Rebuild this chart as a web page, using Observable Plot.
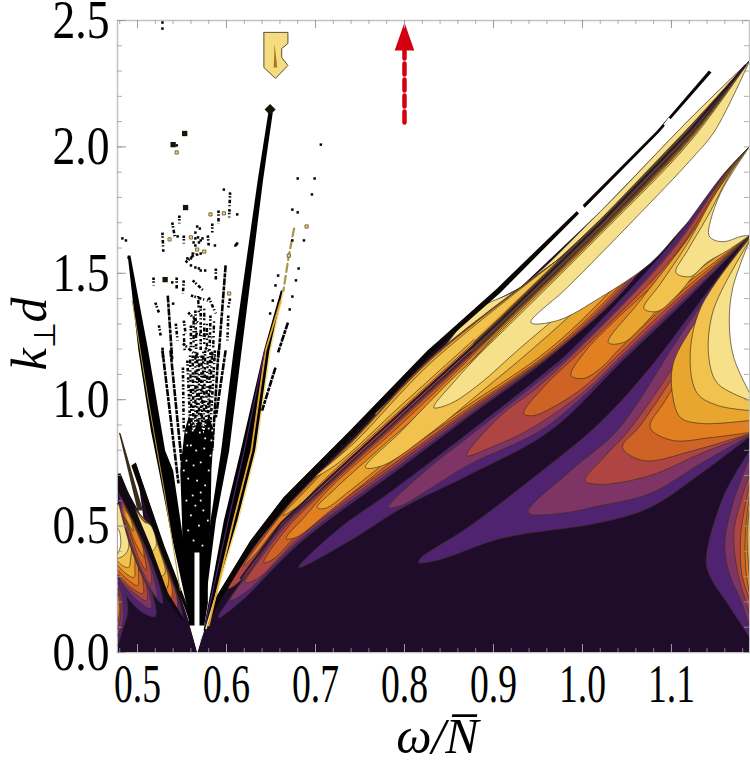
<!DOCTYPE html>
<html>
<head>
<meta charset="utf-8">
<script src="https://cdn.jsdelivr.net/npm/d3@7"></script>
<script src="https://cdn.jsdelivr.net/npm/@observablehq/plot@0.6"></script>
<style>
  html, body { margin: 0; background: #fff; }
  svg { display: block; }
</style>
</head>
<body>
<div id="chart"></div>
<script>
const xTicks = [0.5, 0.6, 0.7, 0.8, 0.9, 1.0, 1.1]
const yTicks = [0, 0.5, 1, 1.5, 2, 2.5]
const xMin = 0.4775, xMax = 1.1877

const dark = "#1f0c2b", purple = "#4f2370", plum = "#7e3566", rust = "#ae4543", deep = "#cf6326"
const orange = "#e27f20", amber = "#e9a62f", yellow = "#f2c24f", cream = "#f6e08a"

// contour bands as [omega, k] outlines
const baseRight = [[.567,0],[1.188,0],[1.188,2.342],[1.121,2.112],[1.020,1.744],[.930,1.444],[.880,1.353],[.826,1.195],[.739,.878],[.683,.680],[.664,.613],[.627,.443],[.588,.218],[.575,.087]]
const baseLeft = [[.478,0],[.567,0],[.560,.099],[.498,.752],[.507,.522],[.478,.708]]

const l1Purple = [[1.188,2.342],[1.121,2.049],[1.020,1.681],[.908,1.297],[.878,1.199],[.796,.934],[.709,.653],[.661,.494],[.616,.277],[.591,.138],[.616,.202],[.683,.435],[.796,.732],[.871,.930],[.972,1.195],[1.076,1.551],[1.155,1.887],[1.188,2.002]]
const l1Plum = [[1.188,2.342],[1.121,2.045],[1.020,1.677],[.908,1.294],[.878,1.195],[.796,.930],[.709,.649],[.661,.491],[.627,.324],[.604,.206],[.621,.237],[.683,.447],[.796,.744],[.871,.938],[.970,1.191],[1.040,1.408],[1.125,1.776],[1.188,2.002]]
const l1Rust = [[1.188,2.342],[1.121,2.041],[1.020,1.673],[.908,1.290],[.878,1.191],[.796,.926],[.709,.645],[.666,.498],[.640,.380],[.621,.277],[.635,.293],[.683,.459],[.796,.756],[.871,.949],[.969,1.191],[1.038,1.412],[1.122,1.772],[1.188,2.002]]
const l1Deep = [[1.188,2.342],[1.121,2.041],[1.020,1.673],[.908,1.290],[.878,1.187],[.796,.918],[.709,.637],[.666,.483],[.642,.356],[.652,.368],[.683,.475],[.796,.767],[.871,.957],[.967,1.191],[1.036,1.416],[1.120,1.768],[1.188,2.002]]
const l1Orange = [[1.188,2.342],[1.121,2.037],[1.020,1.669],[.908,1.286],[.879,1.183],[.796,.902],[.717,.653],[.689,.542],[.667,.451],[.678,.455],[.717,.562],[.796,.783],[.871,.965],[.964,1.191],[1.034,1.420],[1.118,1.760],[1.188,2.002]]
const l1Amber = [[1.188,2.342],[1.121,2.033],[1.020,1.665],[.908,1.278],[.881,1.175],[.833,.997],[.776,.819],[.720,.641],[.702,.574],[.711,.570],[.739,.641],[.796,.799],[.871,.977],[.961,1.195],[1.031,1.428],[1.116,1.760],[1.188,2.002]]
const l1Yellow = [[1.188,2.342],[1.121,2.029],[1.020,1.661],[.908,1.270],[.883,1.179],[.852,1.076],[.796,.874],[.756,.732],[.776,.740],[.833,.878],[.885,1.028],[.942,1.195],[1.020,1.444],[1.110,1.760],[1.188,2.002]]
const l1Cream = [[1.188,2.342],[1.121,2.021],[1.020,1.653],[.908,1.262],[.885,1.183],[.857,1.076],[.833,.969],[.852,.985],[.885,1.064],[.927,1.195],[.983,1.365],[1.057,1.618],[1.133,1.867],[1.188,2.002]]
const l1White = [[1.188,2.342],[1.149,2.065],[1.124,1.958],[1.057,1.709],[.983,1.444],[.942,1.305],[.972,1.313],[1.020,1.404],[1.076,1.539],[1.113,1.681],[1.152,1.828],[1.188,2.002]]

const l2Purple = [[1.188,2.002],[1.160,1.899],[1.096,1.602],[.987,1.195],[.961,1.116],[.871,.866],[.782,.629],[.728,.494],[.681,.336],[.739,.443],[.796,.570],[.871,.700],[.964,.878],[1.043,1.147],[1.096,1.325],[1.133,1.452],[1.188,1.650]]
const l2Plum = [[1.188,2.002],[1.161,1.899],[1.099,1.590],[.992,1.195],[.945,1.056],[.871,.850],[.824,.720],[.782,.574],[.796,.581],[.829,.649],[.871,.740],[.953,.878],[.998,1.005],[1.043,1.159],[1.096,1.337],[1.133,1.460],[1.188,1.650]]
const l2Rust = [[1.188,2.002],[1.162,1.899],[1.101,1.590],[.994,1.195],[.945,1.036],[.908,.937],[.870,.779],[.897,.811],[.938,.878],[.998,1.021],[1.043,1.171],[1.096,1.349],[1.133,1.472],[1.188,1.650]]
const l2Deep = [[1.188,2.002],[1.163,1.899],[1.106,1.582],[.999,1.195],[.958,1.056],[.934,.945],[.945,.937],[.964,.965],[.998,1.040],[1.043,1.187],[1.096,1.365],[1.133,1.479],[1.188,1.650]]
const l2Orange = [[1.188,2.002],[1.164,1.899],[1.110,1.570],[1.031,1.294],[1.004,1.195],[.987,1.096],[1.001,1.084],[1.020,1.123],[1.043,1.206],[1.096,1.381],[1.133,1.491],[1.188,1.650]]
const l2Amber = [[1.188,2.002],[1.165,1.899],[1.125,1.669],[1.065,1.392],[1.029,1.226],[1.046,1.226],[1.065,1.282],[1.096,1.400],[1.133,1.503],[1.188,1.650]]
const l2Yellow = [[1.188,2.002],[1.166,1.899],[1.147,1.800],[1.118,1.618],[1.088,1.460],[1.069,1.361],[1.084,1.349],[1.105,1.408],[1.133,1.519],[1.188,1.650]]
const l2Cream = [[1.188,2.002],[1.167,1.899],[1.140,1.721],[1.118,1.590],[1.105,1.503],[1.121,1.487],[1.140,1.543],[1.163,1.590],[1.188,1.650]]
const l2White = [[1.188,2.002],[1.170,1.907],[1.155,1.816],[1.144,1.709],[1.142,1.650],[1.149,1.630],[1.161,1.626],[1.178,1.646],[1.188,1.650]]

const l3Purple = [[1.188,1.650],[1.133,1.392],[1.076,1.127],[1.020,.910],[.945,.692],[.871,.494],[.818,.372],[.816,.356],[.840,.368],[.908,.451],[1.020,.514],[1.076,.574],[1.133,.708],[1.188,.854]]
const l3Plum = [[1.188,1.650],[1.110,1.254],[1.039,.878],[.987,.720],[.939,.554],[.975,.550],[1.020,.581],[1.076,.629],[1.133,.748],[1.188,.858]]
const l3Rust = [[1.188,1.650],[1.121,1.234],[1.052,.878],[1.026,.779],[1.003,.680],[1.020,.665],[1.076,.700],[1.133,.787],[1.188,.862]]
const l3Deep = [[1.188,1.650],[1.127,1.234],[1.065,.898],[1.045,.811],[1.069,.759],[1.125,.799],[1.188,.866]]
const l3Orange = [[1.188,1.650],[1.138,1.254],[1.093,.997],[1.076,.890],[1.101,.839],[1.144,.850],[1.188,.870]]
const l3Amber = [[1.188,1.646],[1.155,1.440],[1.121,1.274],[1.102,1.143],[1.101,1.025],[1.110,.930],[1.133,.906],[1.188,.918]]
const l3Yellow = [[1.188,1.638],[1.133,1.365],[1.121,1.167],[1.129,1.025],[1.152,.977],[1.188,.957]]
const l3Cream = [[1.188,1.630],[1.147,1.353],[1.142,1.167],[1.152,1.064],[1.188,.997]]
const l3White = [[1.188,1.630],[1.169,1.444],[1.165,1.301],[1.170,1.167],[1.188,1.025]]

const edgePurple = [[1.188,.799],[1.158,.613],[1.139,.364],[1.144,.297],[1.163,.194],[1.188,.059]]
const edgePlum = [[1.188,.771],[1.170,.601],[1.160,.431],[1.165,.313],[1.178,.206],[1.188,.099]]
const edgeRust = [[1.188,.708],[1.175,.562],[1.170,.471],[1.174,.324],[1.188,.154]]
const edgeDeep = [[1.188,.669],[1.178,.471],[1.179,.313],[1.188,.206]]
const edgeOrange = [[1.188,.629],[1.183,.471],[1.184,.313],[1.188,.233]]
const edgeAmber = [[1.188,.581],[1.185,.463],[1.188,.285]]

const l0Rust = [[.975,1.560],[.830,1.167],[.744,.850],[.688,.653],[.669,.581],[.630,.411],[.602,.253],[.616,.285],[.661,.498],[.709,.657],[.796,.937],[.878,1.203]]
const l0Orange = [[.975,1.560],[.830,1.163],[.744,.847],[.688,.649],[.669,.578],[.636,.427],[.619,.344],[.633,.392],[.661,.514],[.709,.672],[.796,.953],[.878,1.218]]
const l0Amber = [[.975,1.560],[.830,1.159],[.744,.843],[.689,.641],[.663,.542],[.683,.585],[.709,.680],[.796,.961],[.878,1.226]]
const l0Yellow = [[.975,1.560],[.830,1.147],[.744,.831],[.700,.696],[.722,.740],[.796,.977],[.878,1.238]]
const l0Cream = [[1.188,2.342],[1.121,2.112],[1.020,1.744],[.930,1.444],[.880,1.353],[.840,1.191],[.796,1.040],[.767,.941],[.796,.997],[.878,1.242],[.908,1.345],[1.020,1.713],[1.121,2.081],[1.188,2.342]]

const leftLowPurple = [[.478,.589],[.489,.455],[.507,.316],[.518,.214],[.520,.142],[.504,.162],[.489,.218],[.478,.289]]
const leftLowPlum = [[.478,.589],[.489,.483],[.506,.344],[.513,.245],[.515,.174],[.500,.206],[.478,.293]]
const leftLowRust = [[.478,.589],[.490,.502],[.503,.372],[.510,.265],[.510,.206],[.497,.233],[.478,.297]]
const leftLowDeep = [[.478,.589],[.490,.522],[.502,.384],[.506,.285],[.506,.233],[.493,.257],[.478,.309]]
const leftLowOrange = [[.478,.589],[.490,.530],[.500,.403],[.501,.316],[.500,.265],[.490,.285],[.478,.324]]
const leftLowAmber = [[.478,.589],[.489,.530],[.497,.423],[.497,.344],[.496,.297],[.487,.312],[.478,.344]]
const leftLowYellow = [[.478,.589],[.487,.542],[.493,.443],[.492,.364],[.490,.336],[.483,.344],[.478,.360]]
const leftLowCream = [[.478,.589],[.484,.542],[.490,.463],[.489,.403],[.483,.380],[.478,.372]]
const leftLowWhite = [[.478,.490],[.480,.475],[.481,.423],[.478,.392]]

const leftMidPurple = [[.479,.633],[.490,.554],[.511,.400],[.526,.245],[.528,.194],[.512,.257],[.492,.419],[.480,.574]]
const leftMidPlum = [[.482,.613],[.492,.538],[.511,.384],[.519,.285],[.522,.222],[.510,.277],[.493,.419],[.482,.562]]
const leftMidRust = [[.483,.601],[.494,.522],[.509,.396],[.515,.324],[.515,.269],[.505,.324],[.494,.419],[.483,.546]]
const leftMidDeep = [[.484,.589],[.496,.510],[.507,.392],[.510,.324],[.502,.368],[.496,.427],[.485,.538]]
const leftMidOrange = [[.485,.578],[.497,.494],[.506,.415],[.507,.380],[.499,.423],[.487,.530]]
const leftMidAmber = [[.487,.562],[.493,.522],[.495,.479],[.488,.522]]

const leftTopPurple = [[.494,.574],[.515,.498],[.531,.356],[.548,.190],[.551,.131],[.535,.233],[.513,.407]]
const leftTopRust = [[.496,.566],[.515,.491],[.528,.376],[.544,.222],[.544,.166],[.530,.253],[.512,.411]]
const leftTopOrange = [[.496,.570],[.513,.502],[.526,.392],[.539,.253],[.537,.206],[.526,.285],[.509,.443],[.498,.542]]
const leftTopAmber = [[.496,.574],[.507,.518],[.513,.510],[.525,.403],[.535,.285],[.531,.245],[.520,.336],[.506,.475]]
const leftTopYellow = [[.497,.570],[.507,.518],[.513,.510],[.524,.411],[.531,.316],[.526,.301],[.515,.392],[.504,.483]]
const leftTopCream = [[.499,.562],[.507,.518],[.515,.502],[.521,.423],[.515,.400],[.507,.471]]

const leftEdgePurple = [[.478,.028],[.483,.087],[.489,.158],[.487,.225],[.481,.285],[.478,.304]]
const leftEdgePlum = [[.478,.067],[.484,.134],[.483,.214],[.479,.265],[.478,.277]]
const leftEdgeRust = [[.478,.095],[.481,.146],[.481,.206],[.478,.253]]
const leftEdgeOrange = [[.478,.127],[.480,.166],[.479,.214],[.478,.233]]

// black strips, the bright sliver inside each of them and the fan around the apex
const strip0 = [[.479,.870],[.481,.866],[.506,.562],[.500,.562]]
const strip1 = [[.478,.708],[.481,.708],[.492,.613],[.499,.554],[.515,.419],[.534,.237],[.552,.134],[.550,.127],[.531,.222],[.511,.407],[.490,.562],[.478,.641]]
const strip2 = [[.493,.740],[.498,.752],[.530,.423],[.556,.186],[.563,.107],[.560,.107],[.552,.186],[.524,.423]]
const fanLeft = [[.489,1.570],[.501,1.195],[.515,.878],[.524,.720],[.537,.483],[.554,.206],[.563,.087],[.566,.127],[.557,.194],[.551,.455],[.540,.720],[.531,.799],[.512,1.195],[.492,1.570]]
const fanCentre = [[.548,.720],[.553,.878],[.558,.938],[.563,.870],[.569,.926],[.574,.866],[.580,.934],[.586,.878],[.583,.720],[.582,.522],[.579,.324],[.579,.194],[.575,.107],[.567,.047],[.558,.107],[.556,.194],[.551,.324],[.550,.522]]
const fanRight = [[.647,2.136],[.635,1.867],[.608,1.195],[.594,.799],[.582,.522],[.570,.047],[.571,.047],[.588,.522],[.603,.799],[.617,1.195],[.641,1.867],[.652,2.136]]
const fanOuter = [[.661,1.432],[.642,1.195],[.616,.799],[.597,.522],[.574,.087],[.576,.087],[.613,.522],[.633,.799],[.649,1.195],[.664,1.432]]
const outerGold = [[.661,1.392],[.644,1.195],[.628,.799],[.608,.522],[.580,.107]]
const outerPurple = [[.643,1.195],[.620,.799],[.602,.522],[.576,.107]]
const outerCream = [[.664,1.432],[.649,1.195],[.633,.799],[.613,.522],[.577,.095]]
const outerDashes = [[.676,1.677],[.670,1.570],[.664,1.432]]
const leftSliver = [[.494,1.392],[.512,1.000],[.530,.640],[.548,.245]]

const ridge = [[.575,.079],[.588,.218],[.627,.443],[.664,.613],[.683,.680],[.739,.878],[.826,1.195],[.904,1.440],[.992,1.741],[1.084,2.065],[1.142,2.302],[1.145,2.294],[1.086,2.057],[.994,1.729],[.908,1.424],[.829,1.179],[.743,.862],[.688,.661],[.669,.589],[.630,.419],[.591,.194]]
const ridgeGapLow = [[.991,1.756],[.998,1.780],[1.004,1.752],[.998,1.729]]
const ridgeGapHigh = [[1.091,2.089],[1.097,2.116],[1.102,2.100],[1.096,2.073]]
const stripeBrown = [[.874,1.187],[.878,1.230],[.908,1.329],[1.020,1.713],[1.121,2.085],[1.188,2.342],[1.121,2.049],[1.020,1.677],[.908,1.297],[.878,1.195]]
const stripeCore = [[.616,.293],[.661,.510],[.709,.669],[.796,.949],[.878,1.214],[.908,1.313],[1.020,1.697],[1.121,2.065],[1.183,2.322]]

const topShape = [[.642,2.453],[.669,2.453],[.669,2.409],[.662,2.389],[.662,2.354],[.669,2.322],[.655,2.271],[.642,2.314],[.642,2.453]]
const topNeedle = [[.654,2.409],[.657,2.314],[.653,2.314]]

// dotted runs of the noisy region: omega1, k1, omega2, k2
const noisyRuns = [
  [.528,1.661,.529,1.582],[.539,1.701,.542,1.642],[.547,1.729,.547,1.697],[.552,1.650,.552,1.618],
  [.579,1.650,.580,1.610],[.584,1.697,.584,1.661],[.591,1.748,.591,1.697],[.604,1.820,.603,1.721],[.554,1.543,.565,1.578],
  [.588,1.519,.588,1.472],[.518,1.483,.518,1.452],[.544,1.483,.544,1.440],[.552,1.472,.551,1.420],
  [.562,1.472,.574,1.432],[.560,1.412,.579,1.392],[.580,1.404,.588,1.341],[.520,1.384,.524,1.345],[.524,1.294,.526,1.254],
  [.557,1.345,.569,1.301],[.604,1.400,.602,1.365],[.602,1.333,.601,1.234],[.528,1.206,.529,1.155],[.543,1.301,.545,1.234],
  [.552,1.313,.554,1.262],[.565,1.262,.584,1.246],[.551,1.222,.569,1.167],[.576,1.206,.588,1.167],[.551,1.127,.552,.866],
  [.556,1.155,.560,.839],[.562,1.175,.563,.839],[.567,1.187,.567,.839],[.572,1.175,.571,.839],[.576,1.195,.574,.839],
  [.582,1.187,.578,.839],[.587,1.195,.581,.839],[.565,1.353,.566,1.195],[.571,1.372,.571,1.195],[.582,1.333,.581,1.195],[.560,1.294,.560,1.195]
]
const denseRuns = [[.559,1.175,.561,.860],[.565,1.190,.565,.850],[.569,1.160,.569,.850],[.574,1.190,.572,.850],[.579,1.170,.576,.850],[.584,1.190,.579,.850],[.563,1.330,.563,1.200],[.575,1.360,.575,1.220],[.586,1.310,.585,1.200],[.568,1.410,.569,1.340],[.578,1.300,.578,1.210],[.552,1.260,.553,1.190]]
const solidRuns = [[.534,1.412,.539,1.155],[.599,1.531,.591,1.167],[.528,1.195,.546,.669],[.537,1.195,.552,.669],[.591,1.195,.584,.799],[.599,1.195,.588,.930],[.669,1.305,.658,1.187],[.655,1.127,.640,.957]]

const blackDots = [[.528,2.492],[.528,2.468],[.544,2.006],[.706,2.009],[.680,1.875],[.699,1.875],[.696,1.812],[.674,1.752],[.680,1.741],[.687,1.630],[.674,1.630],[.487,1.630],[.490,1.562],[.483,1.638],[.597,1.831],[.612,1.733],[.611,1.614],[.540,1.380],[.681,1.519],[.678,1.472],[.674,1.408],[.671,1.357],[.658,1.491],[.655,1.452],[.652,1.392],[.649,1.341],
  [.545,1.646],[.567,1.685],[.570,1.677],[.565,1.661],[.568,1.642],[.565,1.638],[.571,1.630],[.563,1.622],[.569,1.622],[.573,1.638],[.565,1.610],[.587,1.610],[.610,1.610],[.612,1.618],[.560,1.531],[.565,1.523],[.569,1.519],[.571,1.511],[.576,1.511],[.539,1.464],[.560,1.559],[.562,1.578],[.567,1.574],[.571,1.578],[.556,1.559]]
const bigBlobs = [[.553,2.053],[.540,2.009],[.554,1.760],[.531,1.475]]
const paleDots = [[.544,1.978],[.582,1.733],[.597,1.737],[.690,1.685],[.670,1.570],[.575,1.586],[.603,1.420],[.536,1.634],[.560,1.642],[.567,1.594]]
const speckles = [[.560,.819],[.566,.799],[.575,.807],[.555,.759],[.563,.740],[.571,.752],[.580,.720],[.557,.688],[.567,.680],[.576,.661],[.562,.621],[.571,.633],[.555,.601],[.582,.779],[.552,.720],[.565,.581],[.574,.562],[.560,.542],[.569,.502],[.579,.522],[.557,.483],[.563,.443],[.573,.423],[.571,.601],[.556,.819],[.583,.839],[.576,.847],[.562,.878],[.570,.870],[.555,.870],[.580,.886],[.565,.910],[.574,.898],[.558,.902],[.584,.878]]

const whiteArrow = [[.5640,.396],[.5696,.396],[.5696,.107],[.5752,.107],[.5674,0],[.5585,.107],[.5640,.107]]
const redHead = [[.8,2.492],[.811,2.381],[.789,2.381]]
const redShaft = [[.8,2.097],[.8,2.39]]

const serif = "Liberation Serif"
const contour = "#3d3020"

const band = (pts, fill) => Plot.line(pts, {x: d => d[0], y: d => d[1], fill, stroke: contour, strokeWidth: 0.9, strokeOpacity: 0.75, curve: "catmull-rom", clip: true})
const solid = (pts, fill) => Plot.line(pts, {x: d => d[0], y: d => d[1], fill, stroke: "none", curve: "linear", clip: true})
const trace = (pts, stroke, strokeWidth) => Plot.line(pts, {x: d => d[0], y: d => d[1], stroke, strokeWidth, curve: "linear", clip: true})

const xMinor = d3.range(0.48, 1.19, 0.02)
const yMinor = d3.range(0, 2.51, 0.1)
const xTickLen = d => xMin + d * (xMax - xMin) / 632
const yTickLen = d => d * 2.5 / 632
const tickColor = "#9a9a9a"

const chart = Plot.plot({
  width: 750,
  height: 764,
  marginLeft: 117,
  marginRight: 1,
  marginTop: 20,
  marginBottom: 112,
  style: {background: "#fff", overflow: "visible"},
  x: {domain: [xMin, xMax]},
  y: {domain: [0, 2.5]},
  marks: [
    Plot.frame({stroke: "#c4c4c4", strokeWidth: 1.5}),
    Plot.axisX(xTicks, {anchor: "bottom", tickSize: 0, tickPadding: 11, tickFormat: d => d.toFixed(1), fontFamily: serif, fontSize: 54, fill: "#000", label: null}),
    Plot.axisY(yTicks, {anchor: "left", tickSize: 0, tickPadding: 8, tickFormat: d => d.toFixed(1), fontFamily: serif, fontSize: 54, fill: "#000", label: null}),

    solid(baseRight, dark),
    solid(baseLeft, dark),

    band(l1Purple, purple), band(l1Plum, plum), band(l1Rust, rust), band(l1Deep, deep), band(l1Orange, orange),
    band(l1Amber, amber), band(l1Yellow, yellow), band(l1Cream, cream), band(l1White, "#fff"),

    band(l2Purple, purple), band(l2Plum, plum), band(l2Rust, rust), band(l2Deep, deep), band(l2Orange, orange),
    band(l2Amber, amber), band(l2Yellow, yellow), band(l2Cream, cream), band(l2White, "#fff"),

    band(l3Purple, purple), band(l3Plum, plum), band(l3Rust, rust), band(l3Deep, deep), band(l3Orange, orange),
    band(l3Amber, amber), band(l3Yellow, yellow), band(l3Cream, cream), band(l3White, "#fff"),

    band(edgePurple, purple), band(edgePlum, plum), band(edgeRust, rust), band(edgeDeep, deep), band(edgeOrange, orange), band(edgeAmber, amber),

    band(l0Cream, cream), band(l0Rust, rust), band(l0Orange, orange), band(l0Amber, amber), band(l0Yellow, yellow),
    solid(stripeBrown, "#5b4523"),
    trace(stripeCore, "#2b1433", 2),
    solid(ridge, "#0a0604"),
    solid(ridgeGapLow, "#fff"),
    solid(ridgeGapHigh, "#fff"),

    band(leftLowPurple, purple), band(leftLowPlum, plum), band(leftLowRust, rust), band(leftLowDeep, deep),
    band(leftLowOrange, orange), band(leftLowAmber, amber), band(leftLowYellow, yellow), band(leftLowCream, cream), band(leftLowWhite, "#fff"),
    band(leftMidPurple, purple), band(leftMidPlum, plum), band(leftMidRust, rust), band(leftMidDeep, deep), band(leftMidOrange, orange), band(leftMidAmber, amber),
    band(leftTopPurple, purple), band(leftTopRust, rust), band(leftTopOrange, orange), band(leftTopAmber, amber),
    band(leftTopYellow, yellow), band(leftTopCream, cream),
    band(leftEdgePurple, purple), band(leftEdgePlum, plum), band(leftEdgeRust, rust), band(leftEdgeOrange, orange),

    solid(strip0, "#3a2c18"),
    solid(strip1, "#120a10"),
    solid(strip2, "#0a0604"),
    solid(fanLeft, "#000"),
    trace(leftSliver, "#b59b3c", 1),
    solid(fanCentre, "#000"),
    solid(fanRight, "#000"),
    solid(fanOuter, "#000"),
    trace(outerCream, cream, 1.6),
    trace(outerGold, amber, 1.8),
    trace(outerPurple, purple, 1.2),
    Plot.line(outerDashes, {x: d => d[0], y: d => d[1], stroke: "#a8944f", strokeWidth: 2.2, strokeDasharray: "8 4"}),

    Plot.link(noisyRuns, {x1: d => d[0], y1: d => d[1], x2: d => d[2], y2: d => d[3], stroke: "#000", strokeWidth: 2.6, strokeDasharray: "2.5 1.2 1.5 2.2 3.5 1.8 1.2 2.8"}),
    Plot.link(denseRuns, {x1: d => d[0], y1: d => d[1], x2: d => d[2], y2: d => d[3], stroke: "#000", strokeWidth: 2.4, strokeDasharray: "1.5 2.6 4 1.4 2 3.2"}),
    Plot.link(solidRuns, {x1: d => d[0], y1: d => d[1], x2: d => d[2], y2: d => d[3], stroke: "#000", strokeWidth: 2.6, strokeDasharray: "7 1 4 1"}),
    Plot.dot(blackDots, {x: d => d[0], y: d => d[1], r: 1.4, fill: "#000", symbol: "square"}),
    Plot.dot(bigBlobs, {x: d => d[0], y: d => d[1], r: 3, fill: "#1b1206", symbol: "square"}),
    Plot.dot([[.649, 2.148]], {x: d => d[0], y: d => d[1], r: 5, fill: "#1b1206", symbol: "diamond2"}),
    Plot.dot(paleDots, {x: d => d[0], y: d => d[1], r: 1.8, fill: "#f2d57a", stroke: "#5c4c22", strokeWidth: 0.8, symbol: "square"}),
    Plot.dot(speckles, {x: d => d[0], y: d => d[1], r: 1, fill: "#fff", symbol: "square"}),

    Plot.line(topShape, {x: d => d[0], y: d => d[1], fill: "#f6dc80", stroke: "#5c5030", strokeWidth: 1, curve: "linear"}),
    solid(topNeedle, "#a87a1e"),

    solid(whiteArrow, "#fff"),
    Plot.line(redShaft, {x: d => d[0], y: d => d[1], stroke: "#d5000f", strokeWidth: 4.5, strokeDasharray: "11 5"}),
    solid(redHead, "#d5000f"),

    Plot.ruleX(xMinor, {y1: 0, y2: yTickLen(4), stroke: tickColor, strokeWidth: 0.8}),
    Plot.ruleX(xMinor, {y1: 2.5, y2: 2.5 - yTickLen(4), stroke: tickColor, strokeWidth: 0.8}),
    Plot.ruleX(xTicks, {y1: 0, y2: yTickLen(8), stroke: tickColor}),
    Plot.ruleX(xTicks, {y1: 2.5, y2: 2.5 - yTickLen(8), stroke: tickColor}),
    Plot.ruleY(yMinor, {x1: xMin, x2: xTickLen(5), stroke: tickColor, strokeWidth: 0.8}),
    Plot.ruleY(yTicks, {x1: xMin, x2: xTickLen(9), stroke: tickColor}),
    Plot.ruleY(yMinor, {x1: xMax, x2: xMax - (xTickLen(5) - xMin), stroke: tickColor, strokeWidth: 0.8}),

    Plot.text(["ω/N\u0305"], {x: 0.837, y: -0.335, fontFamily: serif, fontStyle: "italic", fontSize: 50, fill: "#000"}),
    Plot.text(["k"], {x: 0.379, y: 1.26, rotate: -90, fontFamily: serif, fontSize: 50, fill: "#000"})
  ]
})

// tick labels in the picture are condensed, the subscript needs tspans
const root = d3.select(chart)
root.selectAll('g[aria-label="x-axis tick label"] text').attr("textLength", 47).attr("lengthAdjust", "spacingAndGlyphs")
root.selectAll('g[aria-label="y-axis tick label"] text').attr("textLength", 57).attr("lengthAdjust", "spacingAndGlyphs")
const yTitle = root.selectAll("text").filter(function () { return this.textContent === "k" }).text(null)
yTitle.append("tspan").attr("font-style", "italic").text("k")
yTitle.append("tspan").attr("font-size", 30).attr("dy", 9).text("⊥")
yTitle.append("tspan").attr("font-style", "italic").attr("dy", -9).text("d")

document.querySelector("#chart").append(chart)
</script>
</body>
</html>
